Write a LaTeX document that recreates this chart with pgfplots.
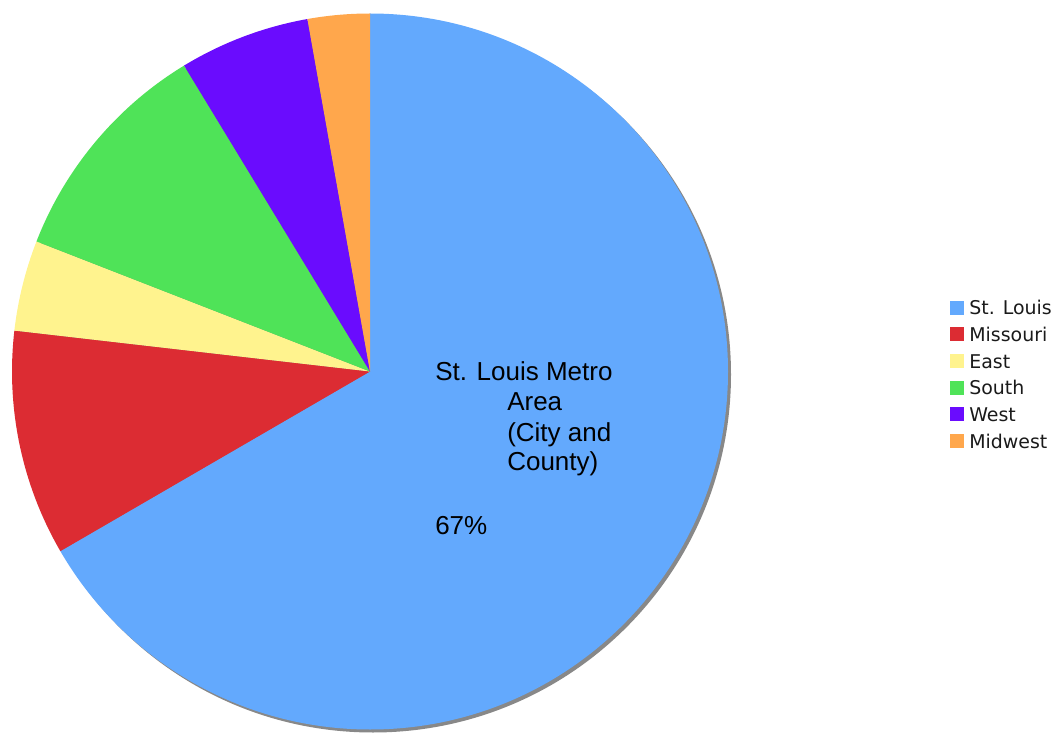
\documentclass[border=0pt]{standalone}
\usepackage{pgfplots}
\pgfplotsset{compat=1.18}
\usepackage{pgfplotstable}
\usepackage{fontspec}
\newfontfamily\legfont{DejaVu Sans}
\newfontfamily\labfont{Liberation Sans}
\definecolor{cS0}{HTML}{63A9FD}
\definecolor{cS1}{HTML}{DC2C33}
\definecolor{cS2}{HTML}{FFF38E}
\definecolor{cS3}{HTML}{4FE358}
\definecolor{cS4}{HTML}{6A0CFE}
\definecolor{cS5}{HTML}{FFA74C}
\definecolor{shadowgray}{HTML}{888888}
\definecolor{legtext}{HTML}{1A1A1A}

\pgfplotstableread{
label value
{St. Louis} 66.7
Missouri 10.2
East 4.1
South 10.4
West 5.9
Midwest 2.8
}\piedata

\def\pietotal{0}
\pgfplotsforeachungrouped \i in {0,...,5}{%
  \pgfplotstablegetelem{\i}{value}\of\piedata
  \pgfmathsetmacro\pietotal{\pietotal+\pgfplotsretval}%
}
\def\piecum{0}
\pgfplotsforeachungrouped \i in {0,...,5}{%
  \pgfplotstablegetelem{\i}{value}\of\piedata
  \pgfmathsetmacro\tmpA{90-\piecum/\pietotal*360}%
  \pgfmathsetmacro\piecum{\piecum+\pgfplotsretval}%
  \pgfmathsetmacro\tmpB{90-\piecum/\pietotal*360}%
  \expandafter\xdef\csname pieA\i\endcsname{\tmpA}%
  \expandafter\xdef\csname pieB\i\endcsname{\tmpB}%
}

\begin{document}
\begin{tikzpicture}
\begin{axis}[
  x=0.75pt, y=0.75pt,
  xmin=0, xmax=1057, ymin=0, ymax=733,
  hide axis,
  clip=false,
  legend image code/.code={\fill[#1,draw=none] (0pt,-5.25pt) rectangle (10.5pt,5.25pt); \path[draw=none,fill=none] (0pt,0pt) -- (14.5pt,0pt);},
  legend cell align=left,
  legend style={draw=none, fill=none, inner sep=0pt, outer sep=0pt,
    at={(axis cs:950,432.3)}, anchor=north west,
    font=\legfont\fontsize{14.2pt}{16pt}\selectfont\color{legtext},
    row sep=9.5pt, column sep=0pt,
    cells={anchor=west},
    nodes={inner sep=0pt, text height=10.5pt, text depth=0pt}},
]
\path[draw=none] (axis cs:0,0) rectangle (axis cs:1057,733);
\fill[shadowgray] (axis cs:373,358.5) circle[radius=268.5pt];
\pgfplotsinvokeforeach{0,...,5}{%
  \edef\temp{\noexpand\fill[cS#1] (axis cs:370,361.5) -- +(\csname pieA#1\endcsname:268.5pt) arc[start angle=\csname pieA#1\endcsname, end angle=\csname pieB#1\endcsname, radius=268.5pt] -- cycle;}%
  \temp
}
\addlegendimage{fill=cS0}\addlegendentry{St. Louis}
\addlegendimage{fill=cS1}\addlegendentry{Missouri}
\addlegendimage{fill=cS2}\addlegendentry{East}
\addlegendimage{fill=cS3}\addlegendentry{South}
\addlegendimage{fill=cS4}\addlegendentry{West}
\addlegendimage{fill=cS5}\addlegendentry{Midwest}
\begin{scope}[every node/.style={inner sep=0pt, anchor=base west, font=\labfont\fontsize{19.5pt}{22.5pt}\selectfont}]
\node at (axis cs:435,352.3) {St. Louis Metro};
\node at (axis cs:507,322.3) {Area};
\node at (axis cs:507,291.3) {(City and};
\node at (axis cs:507,262.3) {County)};
\node at (axis cs:435,199) {67\%};
\end{scope}
\end{axis}
\end{tikzpicture}
\end{document}
